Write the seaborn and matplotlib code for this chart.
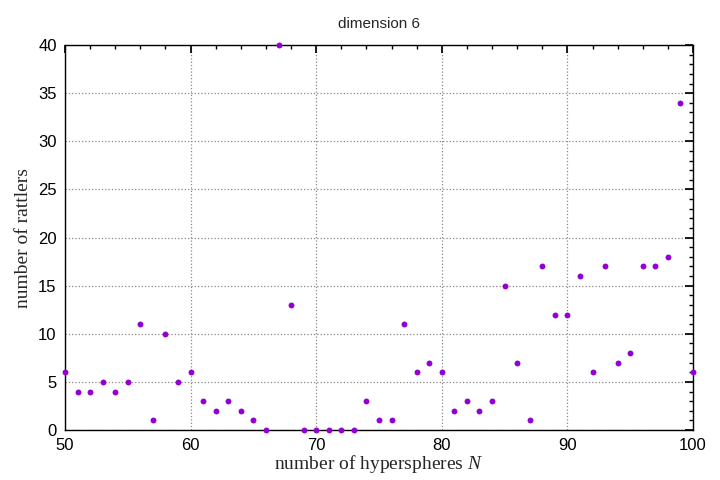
import seaborn as sns
import pandas as pd
import matplotlib.pyplot as plt
from matplotlib.ticker import MultipleLocator

# numero di ipersfere e rattlers
spheres = list(range(50, 101))
rattlers = [6, 4, 4, 5, 4, 5, 11, 1, 10, 5,
            6, 3, 2, 3, 2, 1, 0, 40, 13, 0,
            0, 0, 0, 0, 3, 1, 1, 11, 6, 7,
            6, 2, 3, 2, 3, 15, 7, 1, 17, 12,
            12, 16, 6, 17, 7, 8, 17, 17, 18, 34,
            6]

df = pd.DataFrame({'N': spheres, 'rattlers': rattlers})

sns.set_theme(style="white", font='Liberation Sans')
plt.rcParams['mathtext.fontset'] = 'custom'
plt.rcParams['mathtext.it'] = 'Liberation Serif:italic'
plt.rcParams['mathtext.rm'] = 'Liberation Serif'

fig = plt.figure(figsize=(7.2, 4.8), dpi=100)
ax = fig.add_axes([65/720, 50/480, 628/720, 385/480])

sns.scatterplot(data=df, x='N', y='rattlers', ax=ax, color='#9400d3',
                marker='o', s=18, linewidth=0, clip_on=False, zorder=3)

ax.set_xlim(50, 100)
ax.set_ylim(0, 40)
ax.xaxis.set_major_locator(MultipleLocator(10))
ax.xaxis.set_minor_locator(MultipleLocator(2))
ax.yaxis.set_major_locator(MultipleLocator(5))
ax.yaxis.set_minor_locator(MultipleLocator(1))
ax.tick_params(which='both', direction='in', top=True, right=True,
               labelsize=12, colors='black')
ax.tick_params(axis='x', pad=6)
ax.tick_params(axis='y', pad=6)
ax.tick_params(which='major', length=6)
ax.tick_params(which='minor', length=3)
ax.grid(True, which='major', color='#888888', linestyle=':', linewidth=0.9)
for sp in ax.spines.values():
    sp.set_color('black')
    sp.set_linewidth(1)

serif = {'family': 'Liberation Serif', 'size': 14}
ax.set_xlabel('number of hyperspheres $N$', fontdict=serif, labelpad=0)
ax.set_ylabel('number of rattlers', fontdict=serif, labelpad=4)
ax.set_title('dimension 6', fontsize=11, pad=12)

plt.savefig('out.png', dpi=100)
